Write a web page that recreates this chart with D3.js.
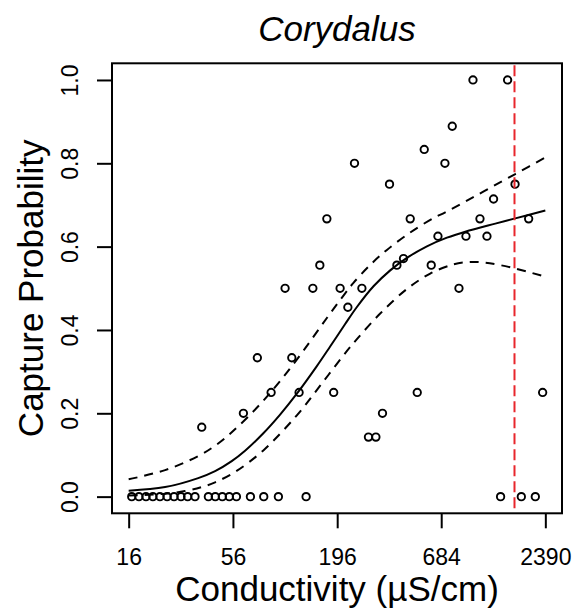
<!DOCTYPE html>
<html>
<head>
<meta charset="utf-8">
<script src="https://cdn.jsdelivr.net/npm/d3@7"></script>
<style>
  html, body { margin: 0; padding: 0; background: #fff; }
  svg { display: block; font-family: "Liberation Sans", Arial, Helvetica, sans-serif; }
</style>
</head>
<body>
<svg id="chart" width="575" height="610"></svg>
<script>
// ---- Data ----
const title = "Corydalus";
const xLabel = "Conductivity (µS/cm)";
const yLabel = "Capture Probability";

const xTickValues = [16, 56, 196, 684, 2390];
const xTickLabels = ["16", "56", "196", "684", "2390"];
const yTickValues = [0, 0.2, 0.4, 0.6, 0.8, 1.0];
const yTickLabels = ["0.0", "0.2", "0.4", "0.6", "0.8", "1.0"];

// observed capture proportions
const obsConductivity = [
  16.6, 18.1, 19.7, 21.4, 23.3, 25.4, 27.6, 30.0, 32.5, 35.5,
  41.7, 45.3, 49.3, 53.6, 58.4, 69.1, 81.1, 96.7, 134.9, 1396, 1791, 2119,
  38.5, 63.5, 75.1, 88.6, 104.8, 113.6, 124.0, 146.3, 159.1, 173.1,
  187.9, 203, 222.8, 241.3, 263.7, 285.4, 312, 337.8, 367.5, 401.6,
  434.8, 471.3, 512.8, 557.8, 606.7, 657.6, 715.2, 781, 846.6, 921,
  1001.8, 1089.7, 1185, 1283, 1519, 1661, 1956, 2314
];
const obsProbability = [
  0, 0, 0, 0, 0, 0, 0, 0, 0, 0,
  0, 0, 0, 0, 0, 0, 0, 0, 0, 0, 0, 0,
  0.1667, 0.2, 0.3333, 0.25, 0.5, 0.3333, 0.25, 0.5, 0.5556, 0.6667,
  0.25, 0.5, 0.4545, 0.8, 0.5, 0.1429, 0.1429, 0.2, 0.75, 0.5556,
  0.5714, 0.6667, 0.25, 0.8333, 0.5556, 0.625, 0.8, 0.8889, 0.5, 0.625,
  1.0, 0.6667, 0.625, 0.7143, 1.0, 0.75, 0.6667, 0.25
];

// fitted curve (solid)
const fitConductivity = [16, 24.8, 36.9, 45.2, 55.2, 64.8, 80.7, 98.7, 120.7, 153.5, 180.1, 215.7, 248.4, 303.2, 370.6, 453, 576, 733, 913, 1310, 1666, 2390];
const fitProbability  = [0.0142, 0.0229, 0.0445, 0.0613, 0.0853, 0.1102, 0.152, 0.1968, 0.247, 0.3133, 0.3603, 0.4143, 0.4551, 0.5048, 0.543, 0.573, 0.6008, 0.6215, 0.6359, 0.6553, 0.6678, 0.6865];

// upper confidence band (dashed)
const upperConductivity = [16, 24.8, 36.9, 45.2, 55.2, 74.6, 98.7, 130.6, 173.1, 215.7, 238.3, 291.4, 356.2, 471.3, 623.7, 718, 990, 1420, 1666, 2390];
const upperProbability  = [0.0416, 0.0637, 0.0973, 0.1222, 0.1544, 0.2132, 0.2775, 0.3502, 0.4287, 0.488, 0.513, 0.5561, 0.5921, 0.6339, 0.6687, 0.6824, 0.717, 0.7568, 0.7743, 0.8139];

// lower confidence band (dashed)
const lowerConductivity = [16, 24.8, 31.5, 38.5, 45.2, 57.5, 80.7, 120.7, 159.7, 211.3, 248.4, 328.6, 453, 599.4, 793.3, 950, 1161.6, 1601, 2390];
const lowerProbability  = [0.0027, 0.007, 0.0133, 0.0229, 0.0344, 0.0594, 0.111, 0.1952, 0.2662, 0.339, 0.3781, 0.4395, 0.4983, 0.5353, 0.5576, 0.5629, 0.5617, 0.5494, 0.5278];

// threshold marker
const thresholdConductivity = [1650];

// ---- Layout ----
const svg = d3.select("#chart");
const box = { left: 112, right: 562, top: 63.3, bottom: 513.3 };
const xPad = (box.right - box.left) * 0.04 / 1.08;

const x = d3.scaleLog()
  .domain([16, 2390])
  .range([box.left + xPad, box.right - xPad]);
const y = d3.scaleLinear()
  .domain([-0.04, 1.04])
  .range([box.bottom, box.top]);

// ---- Axes ----
const xAxis = svg.append("g")
  .attr("transform", `translate(0,${box.bottom})`)
  .call(d3.axisBottom(x).tickValues(xTickValues)
    .tickFormat((d, i) => xTickLabels[i]).tickSize(15));
xAxis.select(".domain").remove();
xAxis.selectAll(".tick line").attr("stroke", "#000").attr("stroke-width", 2);
xAxis.selectAll(".tick text")
  .attr("y", 565 - box.bottom).attr("dy", 0)
  .attr("fill", "#000").style("font-size", "23px");

const yAxis = svg.append("g")
  .attr("transform", `translate(${box.left},0)`)
  .call(d3.axisLeft(y).tickValues(yTickValues)
    .tickFormat((d, i) => yTickLabels[i]).tickSize(15));
yAxis.select(".domain").remove();
yAxis.selectAll(".tick line").attr("stroke", "#000").attr("stroke-width", 2);
yAxis.selectAll(".tick text")
  .attr("x", 0).attr("y", 0).attr("dy", 0)
  .attr("transform", `translate(${78 - box.left},0) rotate(-90)`)
  .style("text-anchor", "middle")
  .attr("fill", "#000").style("font-size", "23px");

// ---- Curves ----
function drawCurve(xs, ps, dash) {
  const pts = xs.map((c, i) => [c, ps[i]]);
  svg.append("path")
    .datum(pts)
    .attr("fill", "none")
    .attr("stroke", "#000")
    .attr("stroke-width", 2)
    .attr("stroke-dasharray", dash)
    .attr("d", d3.line().x(d => x(d[0])).y(d => y(d[1])).curve(d3.curveCatmullRom.alpha(0.5)));
}
drawCurve(fitConductivity, fitProbability, null);
drawCurve(upperConductivity, upperProbability, "9,7");
drawCurve(lowerConductivity, lowerProbability, "9,7");

// ---- Points ----
svg.append("g").selectAll("circle")
  .data(obsConductivity.map((c, i) => [c, obsProbability[i]]))
  .join("circle")
  .attr("cx", d => x(d[0]))
  .attr("cy", d => y(d[1]))
  .attr("r", 3.7)
  .attr("fill", "none")
  .attr("stroke", "#000")
  .attr("stroke-width", 1.9);

// ---- Threshold line ----
svg.append("g").selectAll("line")
  .data(thresholdConductivity)
  .join("line")
  .attr("x1", d => x(d)).attr("x2", d => x(d))
  .attr("y1", box.top + 2).attr("y2", box.bottom - 1)
  .attr("stroke", "#e8262c")
  .attr("stroke-width", 2)
  .attr("stroke-dasharray", "11,5");

// ---- Box ----
svg.append("rect")
  .attr("x", box.left).attr("y", box.top)
  .attr("width", box.right - box.left).attr("height", box.bottom - box.top)
  .attr("fill", "none").attr("stroke", "#000").attr("stroke-width", 2);

// ---- Titles ----
svg.append("text")
  .attr("x", (box.left + box.right) / 2).attr("y", 40.5)
  .attr("text-anchor", "middle")
  .style("font-size", "35px").style("font-style", "italic")
  .text(title);

svg.append("text")
  .attr("x", (box.left + box.right) / 2).attr("y", 601)
  .attr("text-anchor", "middle")
  .style("font-size", "35px")
  .text(xLabel);

svg.append("text")
  .attr("transform", `translate(43,${(box.top + box.bottom) / 2}) rotate(-90)`)
  .attr("text-anchor", "middle")
  .style("font-size", "35px")
  .text(yLabel);
</script>
</body>
</html>
